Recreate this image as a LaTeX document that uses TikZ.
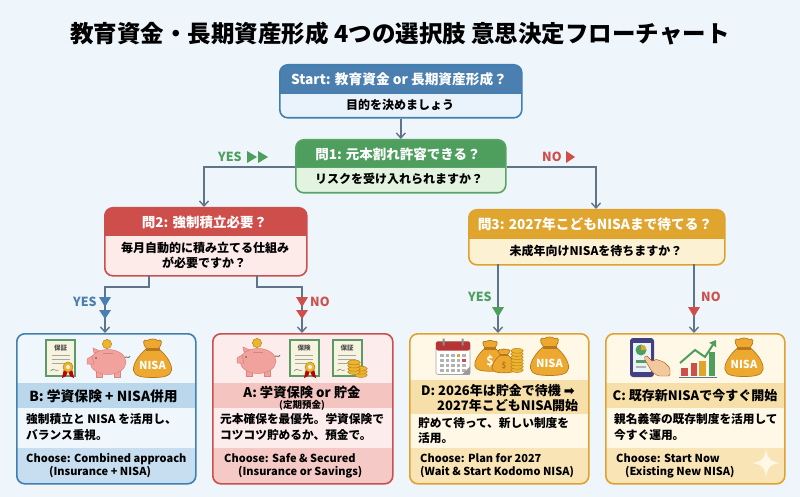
\documentclass[tikz,border=0pt]{standalone}
\usepackage{fontspec}
\usetikzlibrary{arrows.meta,calc}
\setmainfont{Noto Sans CJK JP}
\newfontfamily\dejavu{DejaVu Sans}
\newcommand\fs[1]{\fontsize{#1}{#1}\selectfont\bfseries}
\definecolor{bgc}{HTML}{EEF5FB}
\definecolor{linec}{HTML}{5F7488}
\definecolor{bluehd}{HTML}{4A7FB0}\definecolor{bluebd}{HTML}{EAF3FB}\definecolor{blueln}{HTML}{3F7FB2}
\definecolor{greenhd}{HTML}{4E9E5E}\definecolor{greenbd}{HTML}{E2F3E0}\definecolor{greenln}{HTML}{58A367}
\definecolor{redhd}{HTML}{CE4E4B}\definecolor{redbd}{HTML}{FDEBEA}\definecolor{redln}{HTML}{C9504C}
\definecolor{goldhd}{HTML}{E0A52F}\definecolor{goldbd}{HTML}{FDF1D4}\definecolor{goldln}{HTML}{E0A22E}
\definecolor{bband}{HTML}{BBD7EC}\definecolor{bfoot}{HTML}{C6DEF0}\definecolor{bcard}{HTML}{EFF6FC}
\definecolor{aband}{HTML}{F3C4C0}\definecolor{afoot}{HTML}{F5C9C5}\definecolor{acard}{HTML}{FDECEC}
\definecolor{dband}{HTML}{F6DFA8}\definecolor{dfoot}{HTML}{F8E4B4}\definecolor{dcard}{HTML}{FFF8E6}
\definecolor{certg}{HTML}{5E9A68}\definecolor{certp}{HTML}{F6F3DE}
\definecolor{pig}{HTML}{F2A29C}\definecolor{pigd}{HTML}{DC827C}
\definecolor{coin}{HTML}{EDB52F}\definecolor{coind}{HTML}{B9821C}
\definecolor{bag}{HTML}{EDA92F}\definecolor{bagd}{HTML}{B8771C}
\tikzset{
  x=1pt,y=-1pt,
  txt/.style={inner sep=0pt,font=\fs{#1},text height={.88*#1 pt},text depth={.12*#1 pt}},
  headtxt/.style={txt=#1,text=white},
  bodytxt/.style={txt=#1,text=black},
  lab/.style={txt=12.5},
  wire/.style={draw=linec,line width=1.6pt,-{Straight Barb[length=5pt,width=9pt,line width=1.4pt]}},
  tri/.style={fill=#1,draw=none},
}
\newcommand\qbox[9]{%
  \node[draw=#9,line width=1.6pt,rounded corners=8pt,fill=#8,anchor=north west,inner sep=0pt,
    minimum width={(#4-#2)*1pt},minimum height={(#5-#3)*1pt},
    path picture={\fill[#7,sharp corners] (path picture bounding box.north west) rectangle ([yshift=-#6 pt]path picture bounding box.north east);
      \draw[#9,line width=.8pt,sharp corners] ([yshift=-#6 pt]path picture bounding box.north west) -- ([yshift=-#6 pt]path picture bounding box.north east);}]
    (#1) at (#2,#3) {};}
\newcommand\card[9]{%
  \node[draw=#9,line width=1.6pt,rounded corners=8pt,fill=#8,anchor=north west,inner sep=0pt,
    minimum width={(#3-#2)*1pt},minimum height=150pt,
    path picture={\fill[#6,sharp corners] ([yshift=-#4 pt]path picture bounding box.north west) rectangle ([yshift=-#5 pt]path picture bounding box.north east);
      \fill[#7,sharp corners] ([yshift=-114 pt]path picture bounding box.north west) rectangle (path picture bounding box.south east);}]
    (#1) at (#2,333) {};}
\newcommand\certif[3]{\begin{scope}[shift={(#1,#2)}]
  \fill[certg] (-15.5,-19) rectangle (15.5,19);
  \fill[certp] (-13.5,-17) rectangle (13.5,17);
  \node[txt=6.5,text=black!70] at (0,-10) {#3};
  \draw[black!35,line width=.7pt] (-9,-3)--(9,-3) (-9,1)--(9,1) (-9,5)--(9,5);
  \draw[black!55,line width=.5pt] (-10,13) .. controls (-7,9) and (-5,14) .. (-2,12);
\end{scope}}
\newcommand\seal[2]{\begin{scope}[shift={(#1,#2)}]
  \fill[red!75!black] (-4,2)--(-6,11)--(-2,9)--(0,4)--(2,9)--(6,11)--(4,2)--cycle;
  \fill[coin,draw=coind,line width=.5pt] (0,0) circle (5);
  \fill[certp] (0,0) circle (2);
\end{scope}}
\newcommand\piggy[2]{\begin{scope}[shift={(#1,#2)}]
  \fill[coin,draw=coind,line width=.5pt] (0,-18) circle (4.6);
  \draw[black!50,line width=1pt] (17,-4) .. controls (20,-7) and (21,-2) .. (23,-6);
  \fill[pig,draw=pigd,line width=.5pt] (-11,9) rectangle (-5,15) (7,9) rectangle (13,15);
  \fill[pig,draw=pigd,line width=.5pt] (-13,-9) -- (-14,-14) -- (-7,-11) -- cycle;
  \fill[pig,draw=pigd,line width=.5pt] (1,0) ellipse (18 and 12.5);
  \fill[pig,draw=pigd,line width=.5pt] (-20,-3) -- (-15,-6) -- (-13,2) -- (-20,2) -- cycle;
  \draw[pigd,line width=1pt] (-4,-9) -- (6,-9);
  \fill[black!70] (-11,-4) circle (.9);
\end{scope}}
\newcommand\bagshape[3]{\begin{scope}[shift={(#1,#2)},scale=#3]
  \fill[bag,draw=bagd,line width=.7pt] (-6,-10) .. controls (-11,-16) and (-9,-20) .. (-5,-18) .. controls (-3,-20) and (3,-20) .. (5,-18) .. controls (9,-20) and (11,-16) .. (6,-10) -- cycle;
  \fill[bag,draw=bagd,line width=.7pt] (-7,-9) .. controls (-14,-3) and (-20,6) .. (-19,12) .. controls (-18,18) and (-10,19) .. (0,19) .. controls (10,19) and (18,18) .. (19,12) .. controls (20,6) and (14,-3) .. (7,-9) -- cycle;
  \fill[bagd] (-7,-11) rectangle (7,-8);
\end{scope}}
\newcommand\nisabag[2]{\bagshape{#1}{#2}{1}\node[txt=11,text=white] at (#1,{#2+7}) {NISA};}
\newcommand\coins[3]{\foreach \k in {1,...,#3}{\fill[coin,draw=coind,line width=.5pt] (#1,{#2-(\k-1)*3.2}) ellipse (6.3 and 2.4);}}
\begin{document}
\begin{tikzpicture}
\useasboundingbox (0,0) rectangle (800,497);
\fill[bgc] (0,0) rectangle (800,497);
\node[bodytxt=23.5] (title) at (400,34) {教育資金・長期資産形成 4つの選択肢 意思決定フローチャート};

\qbox{start}{279}{64}{521}{117}{29}{bluehd}{bluebd}{blueln}
\qbox{q1}{295}{139}{505}{192}{28}{greenhd}{greenbd}{greenln}
\qbox{q2}{104}{207}{306}{275}{28}{redhd}{redbd}{redln}
\qbox{q3}{468}{209}{724}{264}{29}{goldhd}{goldbd}{goldln}
\node[headtxt=13.7] (starth) at (399,79) {Start: 教育資金 or 長期資産形成？};
\node[bodytxt=12] (startb) at (400,104.5) {目的を決めましょう};
\node[headtxt=13.5] (q1h) at (398,154) {問1: 元本割れ許容できる？};
\node[bodytxt=12] (q1b) at (399,178.5) {リスクを受け入れられますか？};
\node[headtxt=13.5] (q2h) at (204.5,222) {問2: 強制積立必要？};
\node[bodytxt=12] (q2b1) at (205,247.5) {毎月自動的に積み立てる仕組み};
\node[bodytxt=12] (q2b2) at (204,263) {が必要ですか？};
\node[headtxt=13.7] (q3h) at (595,224) {問3: 2027年こどもNISAまで待てる？};
\node[bodytxt=12] (q3b) at (596,251) {未成年向けNISAを待ちますか？};

\card{cb}{16}{195}{49}{74}{bband}{bfoot}{bcard}{blueln}
\card{ca}{212}{392}{49}{74}{aband}{afoot}{acard}{redln}
\card{cd}{409}{588}{46}{80}{dband}{dfoot}{dcard}{goldln}
\card{cc}{605}{784}{49}{74}{dband}{dfoot}{dcard}{goldln}

\coordinate (q2in) at (204,207);
\coordinate (q3in) at (596,209);
\coordinate (q2l) at (149,275);
\coordinate (q2r) at (257,275);
\coordinate (cbin) at (105,333);
\coordinate (cain) at (302,333);
\coordinate (cdin) at (498,333);
\coordinate (ccin) at (694,333);
\coordinate (q3l) at (498,264);
\coordinate (q3r) at (694,264);
\draw[wire] (start.south) -- (q1.north);
\draw[wire] (q1.west |- 0,167) -- (204,167) -- (q2in);
\draw[wire] (q1.east |- 0,167) -- (596,167) -- (q3in);
\draw[wire] (q2l) -- (149,287) -- (105,287) -- (cbin);
\draw[wire] (q2r) -- (257,287) -- (302,287) -- (cain);
\draw[wire] (q3l) -- (cdin);
\draw[wire] (q3r) -- (ccin);

\node[lab,text=greenhd,anchor=west] (l1) at (218,157) {YES};
\fill[tri=greenhd] (247,151)--(257,157)--(247,163)--cycle (258,151)--(268,157)--(258,163)--cycle;
\node[lab,text=redhd,anchor=west] (l2) at (542,157) {NO};
\fill[tri=redhd] (566,151)--(575,157)--(566,163)--cycle;
\node[lab,text=bluehd,anchor=west] (l3) at (73,302) {YES};
\fill[tri=bluehd] (99,297)--(111,297)--(105,307)--cycle (99,310)--(111,310)--(105,319)--cycle;
\node[lab,text=redhd,anchor=west] (l4) at (310,302) {NO};
\fill[tri=redhd] (296,297)--(308,297)--(302,307)--cycle (296,310)--(308,310)--(302,319)--cycle;
\node[lab,text=greenhd,anchor=west] (l5) at (468,297) {YES};
\fill[tri=greenhd] (492,307)--(504,307)--(498,317)--cycle;
\node[lab,text=redhd,anchor=west] (l6) at (701,297) {NO};
\fill[tri=redhd] (688,307)--(700,307)--(694,317)--cycle;

\certif{60.5}{358}{保証}\seal{68}{367}
\piggy{107}{362}
\nisabag{152.5}{358.5}
\node[bodytxt=13.8] (bt) at (103.5,396) {B: 学資保険 + NISA併用};
\node[bodytxt=11.7,anchor=west] (bb1) at (26,419) {強制積立と NISA を活用し、};
\node[bodytxt=11.7,anchor=west] (bb2) at (26,435) {バランス重視。};
\node[bodytxt=11,anchor=west] (bf1) at (26,458) {Choose: Combined approach};
\node[bodytxt=11,anchor=west] (bf2) at (49,471) {(Insurance + NISA)};

\piggy{257}{361}
\certif{304}{358}{保険}\seal{310}{367}
\certif{347}{358}{保証}
\coins{361}{375}{3}\coins{354}{372}{4}
\node[bodytxt=13.3] (at) at (302,392) {A: 学資保険 or 貯金};
\node[bodytxt=9.5] (at2) at (302,404.5) {(定期預金)};
\node[bodytxt=11.7,anchor=west] (ab1) at (220,419) {元本確保を最優先。学資保険で};
\node[bodytxt=11.7,anchor=west] (ab2) at (220,435) {コツコツ貯めるか、預金で。};
\node[bodytxt=11,anchor=west] (af1) at (224,458) {Choose:  Safe \& Secured};
\node[bodytxt=11,anchor=west] (af2) at (238,471) {(Insurance or Savings)};

\begin{scope}[shift={(453,356.5)}]
  \fill[white,draw=black!35,line width=.6pt,rounded corners=2pt] (-17,-15) rectangle (17,18);
  \fill[red!65!black!80,rounded corners=2pt] (-17,-15) rectangle (17,-6);
  \fill[black!45] (-10.5,-18) rectangle (-8.5,-11) (8.5,-18) rectangle (10.5,-11);
  \foreach \r in {0,1,2,3}\foreach \c in {0,1,2,3,4}{\fill[black!30] ({-13+\c*5.5},{-3+\r*5}) rectangle ++(3.6,3.2);}
  \fill[goldhd] (3.5,-3) rectangle ++(3.6,3.2);
  \fill[redhd] (9,2) rectangle ++(3.6,3.2);
  \fill[black!40] (17,10)--(9,18)--(17,18)--cycle;
\end{scope}
\bagshape{490}{356}{.8}
\node[txt=12,text=white] (dollar) at (490,361) {\$};
\bagshape{504}{361}{.62}
\node[txt=8,text=bagd] (dollar2) at (504,365) {\$};
\coins{517}{370}{7}
\nisabag{549.5}{356.5}
\node[bodytxt=13,anchor=west] (dt1) at (421,391) {D: 2026年は貯金で待機 {\dejavu ➡}};
\node[bodytxt=13,anchor=west] (dt2) at (437,406) {2027年こどもNISA開始};
\node[bodytxt=11.7,anchor=west] (db1) at (418,423) {貯めて待って、新しい制度を};
\node[bodytxt=11.7,anchor=west] (db2) at (418,438) {活用。};
\node[bodytxt=11,anchor=west] (df1) at (420,458) {Choose: Plan for 2027};
\node[bodytxt=11,anchor=west] (df2) at (420,471) {(Wait \& Start Kodomo NISA)};

\fill[blue!35!black!75!white,rounded corners=3pt] (630,338) rectangle (654,377);
\fill[bluebd] (633,343) rectangle (651,372);
\fill[greenhd] (641,350) circle (5.5);
\fill[goldhd] (641,350) -- (641,344.5) arc (-90:0:5.5) -- cycle;
\fill[greenhd] (636,360) rectangle (648,363);
\fill[black!30] (636,366) rectangle (646,368);
\fill[orange!35!white!95!black,draw=orange!70!black,line width=.4pt,rounded corners=1.5pt] (652,372)--(644,358)--(646,355)--(653,362)--(655,359)--(664,362)--(670,368)--(670,376)--(658,376)--cycle;
\fill[redhd] (681,368) rectangle (688,376);
\fill[redhd] (691,363) rectangle (697,376);
\fill[goldhd] (699,361) rectangle (706,376);
\fill[greenhd] (709,352) rectangle (715,376);
\draw[linec,line width=1pt] (679,377) -- (717,377);
\draw[greenhd,line width=2pt,-{Triangle[length=6pt,width=8pt]}] (680,363) -- (695,350) -- (705,357) -- (716,340);
\nisabag{744}{357.5}
\node[bodytxt=13] (ct) at (695,396) {C: 既存新NISAで今すぐ開始};
\node[bodytxt=11.7,anchor=west] (cb1) at (614,419) {親名義等の既存制度を活用して};
\node[bodytxt=11.7,anchor=west] (cb2) at (614,435) {今すぐ運用。};
\node[bodytxt=11,anchor=west] (cf1) at (616,458) {Choose: Start Now};
\node[bodytxt=11,anchor=west] (cf2) at (625,471) {(Existing New NISA)};
\fill[dcard] (766,448) .. controls (767,458) and (770,462) .. (781,463) .. controls (770,464) and (767,468) .. (766,478) .. controls (765,468) and (762,464) .. (751,463) .. controls (762,462) and (765,458) .. (766,448) -- cycle;
\end{tikzpicture}
\end{document}
